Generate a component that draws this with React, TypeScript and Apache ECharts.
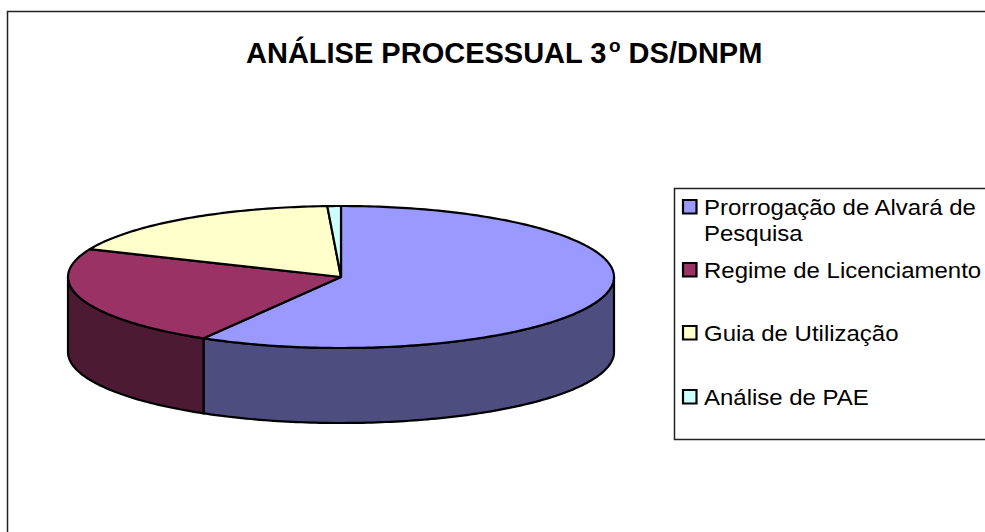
import React, { useEffect, useRef } from "react";
import * as echarts from "echarts";

const categories = ["Prorrogação de Alvará de\nPesquisa", "Regime de Licenciamento", "Guia de Utilização", "Análise de PAE"];
const values = [58.4, 23.0, 17.8, 0.8];
const topColors = ["#9999FF", "#993366", "#FFFFCC", "#CCFFFF"];
const sideColors = ["#4D4D80", "#4D1A33", "#80805F", "#608080"];
const legendRowY = [207, 270, 333, 397];

const CX = 341, CY = 277, RX = 273, RY = 71, DEPTH = 75;
const FONT = '"Liberation Sans", Arial, sans-serif';
const total = values.reduce((a, b) => a + b, 0);

function pt(deg: number, dy = 0): number[] {
  const r = (deg * Math.PI) / 180;
  return [CX + RX * Math.sin(r), CY - RY * Math.cos(r) + dy];
}
function arc(a: number, b: number, dy = 0): number[][] {
  const n = Math.max(2, Math.ceil(Math.abs(b - a)));
  const out: number[][] = [];
  for (let i = 0; i <= n; i++) out.push(pt(a + ((b - a) * i) / n, dy));
  return out;
}

export default function App() {
  const ref = useRef<HTMLDivElement>(null);
  useEffect(() => {
    const chart = echarts.init(ref.current!, null, { renderer: "svg" });
    const seriesData = values.map((v, i) => {
      const start = (values.slice(0, i).reduce((a, b) => a + b, 0) / total) * 360;
      return { name: categories[i], value: [start, start + (v / total) * 360, i] };
    });
    const stroke = { stroke: "#000", lineWidth: 2.2, lineJoin: "round" };
    const legendGraphics: any[] = [];
    categories.forEach((c, i) => {
      legendGraphics.push({
        type: "rect",
        shape: { x: 683, y: legendRowY[i] - 7, width: 13.5, height: 13.5 },
        style: { fill: topColors[i], stroke: "#000", lineWidth: 2.2 },
      });
      legendGraphics.push({
        type: "text",
        x: 704,
        y: legendRowY[i] - 13,
        scaleX: 1.09,
        style: { text: c, font: `22px ${FONT}`, fill: "#000", lineHeight: 26, textVerticalAlign: "top" },
      });
    });
    chart.setOption({
      animation: false,
      backgroundColor: "#fff",
      title: {
        left: 246,
        top: 36,
        padding: 0,
        text: "{a|ANÁLISE PROCESSUAL 3}{s|o}{a| DS/DNPM}",
        textStyle: {
          rich: {
            a: { fontFamily: FONT, fontWeight: "bold", fontSize: 29, color: "#000", lineHeight: 34 },
            s: { fontFamily: FONT, fontWeight: "bold", fontSize: 19, color: "#000", verticalAlign: "top", lineHeight: 11, padding: [0, 0, 0, 2] },
          },
        },
      },
      graphic: [
        { type: "rect", shape: { x: 7.5, y: 11.5, width: 1200, height: 800 }, style: { fill: "none", stroke: "#222", lineWidth: 1.5 }, z: 0 },
        { type: "rect", shape: { x: 674.5, y: 188.5, width: 600, height: 251 }, style: { fill: "#fff", stroke: "#222", lineWidth: 1.5 }, z: 1 },
        ...legendGraphics.map((g) => ({ ...g, z: 2 })),
      ],
      series: [
        {
          type: "custom",
          coordinateSystem: "none",
          data: seriesData,
          z: 3,
          renderItem: (_p: any, api: any) => {
            const a = api.value(0), b = api.value(1), i = api.value(2);
            const s = Math.max(a, 90), e = Math.min(b, 270);
            if (e <= s) return { type: "group", children: [] };
            return {
              type: "polygon",
              shape: { points: [...arc(s, e), ...arc(e, s, DEPTH)] },
              style: { fill: sideColors[i], ...stroke },
            };
          },
        },
        {
          type: "custom",
          coordinateSystem: "none",
          data: seriesData,
          z: 4,
          renderItem: (_p: any, api: any) => {
            const a = api.value(0), b = api.value(1), i = api.value(2);
            return {
              type: "polygon",
              shape: { points: [[CX, CY], ...arc(a, b)] },
              style: { fill: topColors[i], ...stroke },
            };
          },
        },
      ],
    });
    return () => chart.dispose();
  }, []);
  return <div ref={ref} style={{ position: "fixed", left: 0, top: 0, width: 985, height: 532 }} />;
}
